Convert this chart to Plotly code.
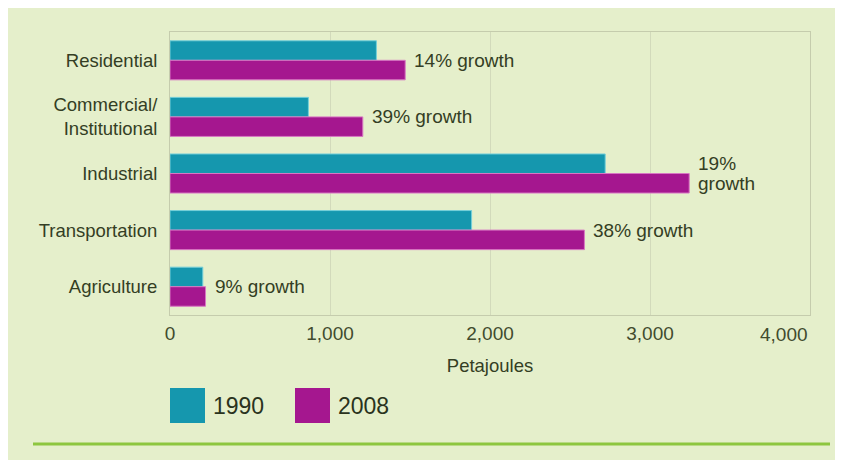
import plotly.graph_objects as go

categories = ["Residential", "Commercial/<br>Institutional", "Industrial", "Transportation", "Agriculture"]
values_1990 = [1290, 865, 2720, 1885, 205]
values_2008 = [1470, 1205, 3245, 2590, 222]
growth_labels = ["14% growth", "39% growth", ["19%", "growth"], "38% growth", "9% growth"]
series_names = ["1990", "2008"]
x_ticks = [0, 1000, 2000, 3000, 4000]
x_ticklabels = ["0", "1,000", "2,000", "3,000", "4,000"]

TEAL = "#1597ae"
MAGENTA = "#a5178f"
BG = "#e5efcb"
TXT = "#343e24"
TICKC = "#414b2e"
FONT = "Liberation Sans, Arial, sans-serif"

OFF = 8  # page body margin
W, H = 830, 452
L, T = 170 - OFF, 32 - OFF
R = (OFF + W) - 810
B = (OFF + H) - 315
PW, PH = W - L - R, H - T - B


def px(x):
    return (x - OFF - L) / PW


def py(y):
    return (T + PH - (y - OFF)) / PH


# the last tick label sits flush with the right edge of the plot in the original
tick_text = list(x_ticklabels[:-1]) + [""]

fig = go.Figure()
fig.add_trace(go.Bar(y=categories, x=values_1990, orientation="h", name=series_names[0],
                     marker=dict(color=TEAL, line=dict(color="#74cfd9", width=1)), showlegend=False))
fig.add_trace(go.Bar(y=categories, x=values_2008, orientation="h", name=series_names[1],
                     marker=dict(color=MAGENTA, line=dict(color="#d877c3", width=1)), showlegend=False))

for cat, v, lab in zip(categories, values_2008, growth_labels):
    lines = lab if isinstance(lab, list) else [lab]
    n = len(lines)
    for k, line in enumerate(lines):
        fig.add_annotation(x=v, y=cat, text=line, xref="x", yref="y", xanchor="left", yanchor="middle",
                           xshift=7, yshift=(n - 1) * 10 - k * 20, showarrow=False, align="left",
                           font=dict(family=FONT, size=19, color=TXT))

fig.add_annotation(x=x_ticks[-1], y=py(334), xref="x", yref="paper", text=x_ticklabels[-1],
                   xanchor="right", yanchor="middle", showarrow=False,
                   font=dict(family=FONT, size=19, color=TICKC))

shapes = [
    dict(type="line", xref="paper", yref="paper", x0=px(33), x1=px(830), y0=py(444), y1=py(444),
         line=dict(color="#8dc63f", width=3)),
]
for name, col, x0 in zip(series_names, [TEAL, MAGENTA], [170, 295]):
    shapes.append(dict(type="rect", xref="paper", yref="paper", x0=px(x0), x1=px(x0 + 35),
                       y0=py(423), y1=py(388), fillcolor=col, line=dict(width=0)))
    fig.add_annotation(x=px(x0 + 41), y=py(406), xref="paper", yref="paper", text=name,
                       xanchor="left", yanchor="middle", showarrow=False,
                       font=dict(family=FONT, size=23, color="#2a331d"))

fig.update_layout(
    width=W, height=H,
    margin=dict(l=L, r=R, t=T, b=B, pad=0),
    paper_bgcolor=BG, plot_bgcolor=BG,
    barmode="group", bargap=0.31, bargroupgap=0,
    shapes=shapes,
    showlegend=False,
    font=dict(family=FONT, color=TXT),
)
fig.update_xaxes(range=[0, 4000], tickvals=x_ticks, ticktext=tick_text,
                 showgrid=True, gridcolor="#d2dabb", gridwidth=1,
                 showline=True, linecolor="#c5ccad", linewidth=1, mirror=True,
                 zeroline=False, ticks="", ticklabelstandoff=1, automargin=False,
                 tickfont=dict(family=FONT, size=19, color=TICKC),
                 title=dict(text="Petajoules", standoff=16,
                            font=dict(family=FONT, size=18.5, color=TXT)))
fig.update_yaxes(autorange="reversed", showgrid=False,
                 showline=True, linecolor="#c5ccad", linewidth=1, mirror=True,
                 ticks="", ticklabelstandoff=8, automargin=False,
                 tickfont=dict(family=FONT, size=18.5, color=TXT))

fig.write_html("out.html")
